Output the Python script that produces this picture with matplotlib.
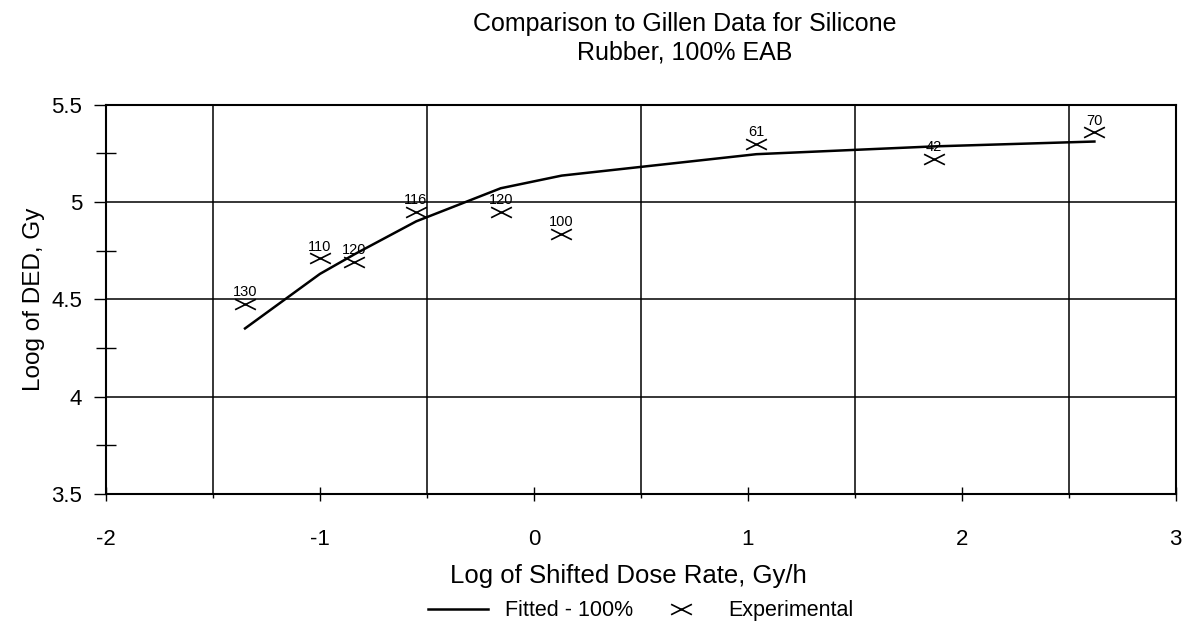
import matplotlib
matplotlib.use('Agg')
import matplotlib.pyplot as plt
from matplotlib.path import Path
import numpy as np

plt.rcParams['font.family'] = ['Liberation Sans', 'DejaVu Sans']

# fitted curve
fit_x = [-1.35, -1.0, -0.84, -0.55, -0.155, 0.13, 1.04, 1.87, 2.62]
fit_y = [4.35, 4.63, 4.73, 4.90, 5.07, 5.135, 5.245, 5.285, 5.31]

# experimental points and temperature labels
exp_x = [-1.35, -1.0, -0.84, -0.553, -0.155, 0.127, 1.04, 1.87, 2.62]
exp_y = [4.474, 4.71, 4.69, 4.948, 4.95, 4.837, 5.296, 5.219, 5.357]
exp_labels = ['130', '110', '120', '116', '120', '100', '61', '42', '70']

# flattened x marker
flat_x = Path([(-1, -0.5), (1, 0.5), (-1, 0.5), (1, -0.5)],
              [Path.MOVETO, Path.LINETO, Path.MOVETO, Path.LINETO])

fig = plt.figure(figsize=(11.84, 6.26), dpi=100)
ax = fig.add_axes([0.0895, 0.211, 0.9035, 0.622])

ax.plot(fit_x, fit_y, color='black', lw=1.8, label='Fitted - 100%', zorder=3)
ax.plot(exp_x, exp_y, linestyle='none', marker=flat_x, markersize=15,
        markeredgewidth=1.2, color='black', label='Experimental', zorder=4)

for x, y, t in zip(exp_x, exp_y, exp_labels):
    ax.annotate(t, (x, y), xytext=(0, 8.5), textcoords='offset points',
                ha='center', va='center', fontsize=10.5)

ax.set_xlim(-2, 3)
ax.set_ylim(3.5, 5.5)

ax.set_xticks(np.arange(-2, 3.1, 1))
ax.set_xticks(np.arange(-1.5, 3, 1), minor=True)
ax.set_yticks(np.arange(3.5, 5.51, 0.5))
ax.set_yticks(np.arange(3.75, 5.5, 0.5), minor=True)
ax.yaxis.set_major_formatter(matplotlib.ticker.FormatStrFormatter('%g'))
ax.xaxis.set_major_formatter(matplotlib.ticker.FormatStrFormatter('%g'))

ax.grid(True, which='minor', axis='x', color='black', lw=1.1)
ax.grid(True, which='major', axis='y', color='black', lw=1.1)

ax.tick_params(axis='x', which='major', direction='inout', length=10, width=1,
               labelsize=16, pad=20)
ax.tick_params(axis='x', which='minor', direction='out', length=3, width=1)
ax.tick_params(axis='y', which='major', direction='out', length=9, width=1,
               labelsize=16, pad=8)
ax.tick_params(axis='y', which='minor', direction='inout', length=14, width=1)

for s in ax.spines.values():
    s.set_linewidth(1.5)

ax.set_xlabel('Log of Shifted Dose Rate, Gy/h', fontsize=18.5, labelpad=10, x=0.488)
ax.set_ylabel('Loog of DED, Gy', fontsize=17.5, labelpad=5)

fig.text(0.578, 0.939, 'Comparison to Gillen Data for Silicone\nRubber, 100% EAB',
         ha='center', va='center', fontsize=18, linespacing=1.2)

fig.legend(loc='center', bbox_to_anchor=(0.541, 0.024), ncol=2, frameon=False,
           fontsize=15.5, handlelength=2.8, columnspacing=0.8, handletextpad=0.8)

fig.savefig('out.png', dpi=100)
